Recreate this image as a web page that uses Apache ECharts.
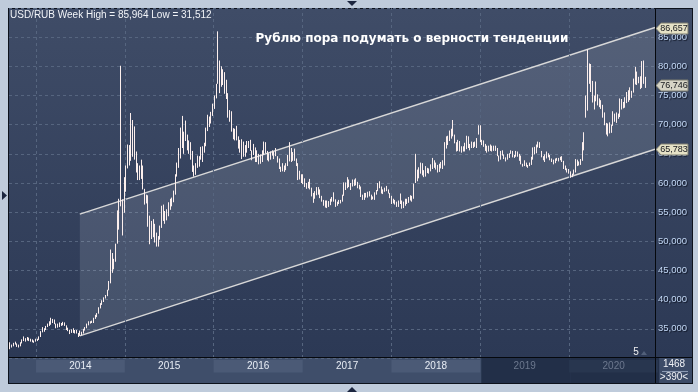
<!DOCTYPE html>
<html><head><meta charset="utf-8">
<script src="https://cdn.jsdelivr.net/npm/echarts@6/dist/echarts.min.js"></script>
<style>html,body{margin:0;padding:0;background:#bfcbdb;}#c{width:698px;height:392px;}</style>
</head><body><div id="c"></div>
<script>
// ---- data: weekly USD/RUB [high, low], week starting Monday, first week 2013-09-16 ----
const firstWeek = [2013, 8, 16];
const w2013 = [[32.7,31.51],[32.3,31.8],[32.6,32.0],[32.8,32.3],[32.5,31.9],[32.3,31.8],[32.7,32.0],[33.2,32.5],[33.7,32.9],[33.4,32.8],[33.6,33.0],[33.5,32.9],[33.3,32.8],[33.2,32.7],[33.0,32.6],[33.3,32.8]];
const w2014 = [[33.3,32.9],[33.7,33.1],[34.6,33.6],[35.3,34.4],
 [35.1,34.5],[35.5,34.8],[35.9,35.3],[36.3,35.5],
 [36.9,35.7],[36.7,36.0],[36.6,35.8],[35.9,35.1],[35.9,35.2],
 [36.1,35.3],[36.0,35.5],[36.2,35.6],[36.1,35.5],
 [35.6,34.8],[35.2,34.6],[34.8,34.1],[34.9,34.3],
 [35.1,34.3],[34.8,34.2],[34.8,34.2],[34.3,33.6],[34.7,33.8],
 [34.5,33.9],[35.0,34.2],[35.3,34.7],[35.9,35.1],
 [36.3,35.6],[36.3,35.9],[36.4,36.0],[36.9,36.0],
 [37.4,36.7],[37.7,37.0],[38.7,37.6],[39.4,38.5],[39.9,39.1],
 [40.4,39.6],[40.8,40.2],[41.7,40.6],[43.2,41.6],
 [48.6,42.8],[48.0,44.6],[47.0,45.2],[49.6,46.5],
 [55.3,49.6],[57.3,52.0],[80.1,56.0],[57.2,51.0],[61.0,54.9]];
const w2015 = [[63.0,58.5],[66.6,62.5],[66.5,63.0],[72.0,63.8],
 [70.8,64.5],[69.7,64.0],[65.4,61.8],[63.4,60.5],
 [63.0,60.5],[64.0,60.7],[63.0,58.9],[59.0,56.3],[58.0,56.5],
 [57.9,52.5],[54.4,49.5],[53.5,50.4],[53.8,50.7],
 [53.0,49.8],[51.5,49.1],[50.9,49.1],[52.7,50.3],
 [56.1,52.3],[56.3,53.5],[55.2,53.0],[55.5,53.6],[56.7,54.3],
 [57.3,55.4],[57.5,56.0],[58.7,56.7],[61.5,58.0],
 [63.5,61.1],[66.0,62.6],[69.5,64.2],[71.5,66.0],[68.8,65.0],
 [70.7,67.2],[68.3,65.6],[67.3,65.0],[67.0,64.0],
 [65.5,61.9],[63.0,61.1],[63.4,61.4],[64.7,62.6],
 [64.6,62.8],[66.2,64.0],[66.3,63.6],[66.9,65.2],[69.5,66.3],
 [71.7,68.9],[71.4,69.6],[72.2,70.2],[73.6,71.5]];
const w2016 = [[75.0,72.7],[77.0,74.5],[86.0,77.0],[81.0,75.4],
 [80.0,76.5],[79.5,76.8],[79.0,75.3],[77.7,74.4],[75.4,71.2],
 [72.5,70.5],[72.3,68.8],[69.4,67.5],[69.3,67.3],
 [69.8,67.3],[68.0,65.9],[67.4,65.2],[67.5,64.1],
 [67.1,64.5],[66.5,64.5],[67.2,65.2],[67.2,66.0],[67.4,65.5],
 [65.6,63.9],[66.7,64.8],[66.1,63.6],[65.6,63.6],
 [65.0,63.2],[64.9,63.3],[65.6,63.6],[67.1,64.8],
 [67.0,65.1],[65.5,63.9],[65.1,63.7],[65.4,64.0],[65.6,64.7],
 [65.4,64.1],[66.0,64.6],[64.6,63.5],[64.2,62.4],
 [62.8,61.9],[63.4,62.0],[63.0,61.9],[63.4,62.2],[64.8,62.9],
 [67.0,63.7],[66.0,63.6],[65.3,63.8],[65.9,63.8],
 [64.2,62.9],[63.4,60.5],[62.1,60.6],[61.5,60.0]];
const w2017 = [[61.5,59.8],[60.8,59.3],[60.0,59.0],[60.2,59.1],[60.7,58.9],
 [59.2,57.7],[58.3,56.6],[58.6,57.3],[59.3,57.9],
 [59.3,58.0],[58.9,57.4],[57.8,56.8],[57.1,56.1],
 [57.0,55.8],[57.0,55.7],[56.9,55.9],[57.3,56.2],
 [57.6,56.8],[58.4,56.8],[57.2,55.9],[56.8,56.1],[57.1,56.4],
 [57.1,56.5],[58.0,56.8],[60.1,57.8],[60.1,58.8],
 [61.0,59.1],[60.6,59.3],[60.0,58.8],[60.6,59.4],[60.6,59.5],
 [60.8,59.6],[60.2,59.1],[59.7,58.9],[59.4,57.6],
 [58.0,57.1],[58.3,57.1],[58.3,57.5],[58.5,57.5],
 [58.6,57.7],[58.0,57.1],[57.7,57.2],[58.4,57.1],[58.8,58.0],
 [60.0,58.6],[60.3,59.1],[59.4,58.2],[58.9,58.1],
 [59.2,58.5],[59.5,58.6],[58.9,58.2],[58.3,57.4]];
const w2018 = [[57.8,56.4],[57.3,56.5],[57.1,56.3],[56.8,55.9],[57.0,55.9],
 [58.2,56.4],[57.0,55.6],[56.8,55.7],[57.3,56.1],
 [57.3,56.4],[57.6,56.6],[57.9,57.0],[57.8,56.8],
 [59.9,57.3],[65.0,60.0],[62.3,60.3],[62.7,60.8],[63.5,61.6],
 [63.4,61.3],[62.2,61.0],[62.9,61.1],[62.6,61.7],
 [62.5,61.6],[63.2,62.0],[64.3,62.4],[63.9,62.6],
 [63.5,62.3],[63.1,61.8],[63.3,61.9],[63.6,62.5],[63.9,62.4],
 [67.0,63.0],[68.0,65.9],[68.1,66.5],[69.0,67.2],
 [69.3,67.6],[70.8,68.0],[68.3,66.8],[67.0,65.4],
 [67.4,65.5],[67.2,65.4],[66.3,65.2],[66.3,65.4],[66.9,65.4],
 [68.1,65.8],[68.0,66.0],[66.7,65.6],[67.1,66.0],
 [67.0,66.0],[67.1,66.2],[67.7,66.0],[69.9,68.3],[69.9,67.0]];
const w2019 = [[67.4,66.5],[67.3,66.2],[66.7,65.5],[66.4,65.2],
 [66.4,65.4],[66.6,65.5],[66.4,65.4],[66.4,65.5],
 [66.4,65.5],[66.0,64.6],[64.7,63.7],[65.5,64.0],
 [65.6,64.7],[64.9,64.1],[64.4,63.7],[65.0,64.0],[65.1,64.3],
 [65.6,65.0],[65.5,64.4],[64.8,64.3],[65.5,64.5],
 [65.4,64.5],[65.0,63.8],[64.7,63.2],[63.3,62.8],
 [63.9,62.9],[63.5,62.8],[63.1,62.6],[63.5,62.9],[64.5,63.1],
 [66.1,64.0],[66.2,64.9],[66.6,65.1],[67.1,66.1],
 [67.0,66.0],[65.5,64.4],[64.6,63.9],[64.9,63.6],[65.4,64.2],
 [65.1,64.4],[64.8,63.9],[64.2,63.6],[64.0,63.2],
 [64.2,63.4],[64.3,63.8],[64.3,63.7],[64.5,63.9],
 [64.6,63.6],[63.8,62.4],[63.0,62.2],[62.5,61.8],[62.4,61.6]];
const w2020 = [[62.0,60.9],[61.6,61.0],[62.3,61.4],[64.1,61.8],
 [64.0,62.9],[63.7,63.0],[64.1,63.1],[67.0,63.8],
 [68.7,65.6],[75.0,71.2],[82.9,72.4],[80.5,77.0],[80.4,75.6],
 [77.5,73.8],[75.0,72.6],[77.4,74.0],[75.2,73.3],
 [74.5,73.0],[74.2,72.7],[73.4,71.2],[72.1,69.9],
 [70.3,68.3],[70.2,68.0],[70.4,68.5],[70.0,68.6],[72.3,69.8],
 [71.9,70.5],[72.1,70.3],[71.9,71.0],[74.5,71.3],
 [74.4,72.6],[73.9,72.8],[74.7,72.9],[75.6,73.7],[75.9,73.9],
 [76.4,74.2],[75.8,74.6],[77.9,75.5],[79.9,76.9],
 [79.1,76.8],[78.2,77.1],[78.3,76.1],[80.9,76.3],
 [81.0,77.0],[78.2,76.3]];
const lastClose = 76.746;

// axis / annotations
const yearStarts = [2014, 2015, 2016, 2017, 2018, 2019, 2020];
const bandLabels = ['2014', '2015', '2016', '2017', '2018', '2019', '2020'];
const bandLight = [true, false, true, false, true, false, true];
const bandFuture = [false, false, false, false, false, true, true];
const viewStart = [2013, 8, 12];
const viewEnd = [2020, 11, 19];
const yMin = 30, yMax = 90, yStep = 5;
const channelDates = [[2014, 5, 30], [2020, 11, 19]];
const channelLow = [33.8, 65.783];
const channelHigh = [54.674, 86.657];
const tagValues = [86.657, lastClose, 65.783];
const tagLabels = ['86,657', '76,746', '65,783'];
const tagColors = ['#e6e2c6', '#d6d4c6', '#e6e2c6'];

const DAY = 86400000;
const ts = a => Date.UTC(a[0], a[1], a[2]);
const weeks = [].concat(w2013, w2014, w2015, w2016, w2017, w2018, w2019, w2020);
const t0 = ts(firstWeek);
const barData = weeks.map((p, i) => [t0 + (i * 7 - 2) * DAY, p[0], p[1]]);
const xMin = ts(viewStart), xMax = ts(viewEnd);
const fmt = v => (v * 1000).toLocaleString('en-US');

const chart = echarts.init(document.getElementById('c'), null, {width: 698, height: 392});
const bg = {type: 'linear', x: 0, y: 0, x2: 0, y2: 1, colorStops: [{offset: 0, color: '#3f4c67'}, {offset: 1, color: '#2c3955'}]};
const FONT = 'Liberation Sans, Arial, sans-serif';

chart.setOption({
  animation: false,
  backgroundColor: '#bfcbdb',
  grid: [
    {left: 9, right: 43, top: 8, height: 350},
    {left: 9, right: 43, top: 358, height: 25}
  ],
  xAxis: [
    {type: 'time', gridIndex: 0, min: xMin, max: xMax, show: false},
    {type: 'time', gridIndex: 1, min: xMin, max: xMax, show: false}
  ],
  yAxis: [
    {type: 'value', gridIndex: 0, position: 'right', min: yMin, max: yMax, interval: yStep,
     axisLine: {show: false}, axisTick: {show: false},
     axisLabel: {showMinLabel: false, showMaxLabel: false, margin: 3, color: '#c2d7f4', fontFamily: FONT, fontSize: 9.5,
       textShadowColor: '#0a1020', textShadowBlur: 1, textShadowOffsetX: 1, textShadowOffsetY: 1, formatter: fmt},
     splitLine: {show: true, lineStyle: {type: [3, 3], color: '#56657f', width: 1}}},
    {type: 'value', gridIndex: 1, min: 0, max: 1, show: false}
  ],
  graphic: {elements: [
    {type: 'rect', shape: {x: 8, y: 8, width: 685, height: 376}, style: {fill: '#0d121c'}, z: -30, silent: true},
    {type: 'rect', shape: {x: 9, y: 9, width: 683, height: 348}, style: {fill: bg}, z: -29, silent: true},
    {type: 'rect', shape: {x: 9, y: 358, width: 646, height: 25}, style: {fill: '#3f4e6a'}, z: -29, silent: true},
    {type: 'rect', shape: {x: 656, y: 358, width: 36, height: 25}, style: {fill: '#3c4b67'}, z: -29, silent: true},
    {type: 'line', shape: {x1: 655.5, y1: 9, x2: 655.5, y2: 383}, style: {stroke: '#05080d', lineWidth: 1}, z: 60, silent: true},
    {type: 'line', shape: {x1: 9, y1: 357.5, x2: 692, y2: 357.5}, style: {stroke: '#05080d', lineWidth: 1}, z: 60, silent: true},
    {type: 'polygon', shape: {points: [[2, 191], [7, 195.5], [2, 200]]}, style: {fill: '#1c2640'}, z: 60, silent: true},
    {type: 'polygon', shape: {points: [[347, 1], [357, 1], [352, 6]]}, style: {fill: '#1c2640'}, z: 60, silent: true},
    {type: 'polygon', shape: {points: [[347, 392], [357, 392], [352, 387]]}, style: {fill: '#1c2640'}, z: 60, silent: true},
    {type: 'text', x: 10, y: 15, style: {text: 'USD/RUB Week High = 85,964 Low = 31,512', fill: '#f2f4f8', font: '10px ' + FONT, verticalAlign: 'middle', align: 'left'}, z: 60, silent: true},
    {type: 'text', x: 412, y: 39, style: {text: 'Рублю пора подумать о верности тенденции', fill: '#ffffff', font: 'bold 12px DejaVu Sans', verticalAlign: 'middle', align: 'center'}, z: 60, silent: true},
    {type: 'text', x: 636, y: 352, style: {text: '5', fill: '#f0f0f0', font: '10px ' + FONT, verticalAlign: 'middle', align: 'center'}, z: 60, silent: true},
    {type: 'polygon', shape: {points: [[641, 355], [647, 355], [644, 351]]}, style: {fill: '#52607a'}, z: 60, silent: true},
    {type: 'text', x: 674, y: 364, style: {text: '1468', fill: '#f0f2f6', font: '10px ' + FONT, verticalAlign: 'middle', align: 'center'}, z: 60, silent: true},
    {type: 'line', shape: {x1: 662, y1: 371.5, x2: 688, y2: 371.5}, style: {stroke: '#8b9ab3', lineWidth: 1}, z: 60, silent: true},
    {type: 'text', x: 674, y: 377, style: {text: '>390<', fill: '#f0f2f6', font: '10px ' + FONT, verticalAlign: 'middle', align: 'center'}, z: 60, silent: true}
  ]},
  series: [
    { // channel
      type: 'custom', xAxisIndex: 0, yAxisIndex: 0, z: 3,
      data: [[ts(channelDates[0]), channelLow[0], channelHigh[0], ts(channelDates[1]), channelLow[1], channelHigh[1]]],
      encode: {x: [0, 3], y: [1, 2, 4, 5]},
      renderItem: (params, api) => {
        const la = api.coord([api.value(0), api.value(1)]);
        const ha = api.coord([api.value(0), api.value(2)]);
        const lb = api.coord([api.value(3), api.value(4)]);
        const hb = api.coord([api.value(3), api.value(5)]);
        return {type: 'group', children: [
          {type: 'polygon', shape: {points: [ha, hb, lb, la]}, style: {fill: 'rgba(235,240,250,0.13)'}},
          {type: 'line', shape: {x1: ha[0], y1: ha[1], x2: hb[0], y2: hb[1]}, style: {stroke: '#d8d8d8', lineWidth: 1.4}},
          {type: 'line', shape: {x1: la[0], y1: la[1], x2: lb[0], y2: lb[1]}, style: {stroke: '#d8d8d8', lineWidth: 1.4}}
        ]};
      },
      markLine: {silent: true, symbol: 'none', label: {show: false},
        lineStyle: {type: [3, 3], color: '#56657f', width: 1},
        data: yearStarts.map(y => ({xAxis: Date.UTC(y, 0, 1)}))}
    },
    { // weekly high-low bars
      type: 'custom', xAxisIndex: 0, yAxisIndex: 0, z: 5,
      data: barData, encode: {x: 0, y: [1, 2]},
      renderItem: (params, api) => {
        const hi = api.coord([api.value(0), api.value(1)]);
        const lo = api.coord([api.value(0), api.value(2)]);
        const x = Math.round(hi[0]) + 0.5;
        return {type: 'line', shape: {x1: x, y1: hi[1], x2: x, y2: lo[1]}, style: {stroke: '#fcefed', lineWidth: 1}};
      }
    },
    { // right-axis value tags
      type: 'custom', xAxisIndex: 0, yAxisIndex: 0, z: 20, clip: false,
      data: tagValues.map(v => [xMax, v]), encode: {x: 0, y: 1},
      renderItem: (params, api) => {
        const p = api.coord([api.value(0), api.value(1)]);
        const x = p[0] + 1, y = Math.round(p[1]) + 0.5;
        return {type: 'group', children: [
          {type: 'polygon', shape: {points: [[x, y], [x + 5, y - 5.5], [x + 32, y - 5.5], [x + 32, y + 5.5], [x + 5, y + 5.5]]},
           style: {fill: tagColors[params.dataIndex], stroke: '#7d7d70', lineWidth: 1}},
          {type: 'text', x: x + 18, y: y, style: {text: tagLabels[params.dataIndex], fill: '#15171c', font: '9px ' + FONT, align: 'center', verticalAlign: 'middle'}}
        ]};
      }
    },
    { // year band
      type: 'custom', xAxisIndex: 1, yAxisIndex: 1, z: 5,
      data: yearStarts.map(y => [Date.UTC(y, 0, 1), Date.UTC(y + 1, 0, 1), 0.5]),
      encode: {x: [0, 1], y: 2},
      renderItem: (params, api) => {
        const i = params.dataIndex;
        const s = api.coord([api.value(0), 1]);
        const e = api.coord([api.value(1), 0]);
        const cs = api.coord([api.value(0), 0.92]);
        const ce = api.coord([api.value(1), 0.42]);
        const kids = [];
        if (bandFuture[i]) kids.push({type: 'rect', shape: {x: s[0] + 1, y: s[1], width: e[0] - s[0], height: e[1] - s[1]}, style: {fill: '#222f48'}});
        if (bandLight[i]) kids.push({type: 'rect', shape: {x: cs[0], y: cs[1], width: ce[0] - cs[0], height: ce[1] - cs[1]}, style: {fill: bandFuture[i] ? '#28364f' : '#4b5a76'}});
        const mid = api.coord([(api.value(0) + api.value(1)) / 2, 0.66]);
        kids.push({type: 'text', x: mid[0], y: mid[1], style: {text: bandLabels[i], fill: bandFuture[i] ? '#6c788e' : '#e8edf5', font: '10px ' + FONT, align: 'center', verticalAlign: 'middle'}});
        return {type: 'group', children: kids};
      }
    }
  ]
});
</script></body></html>
